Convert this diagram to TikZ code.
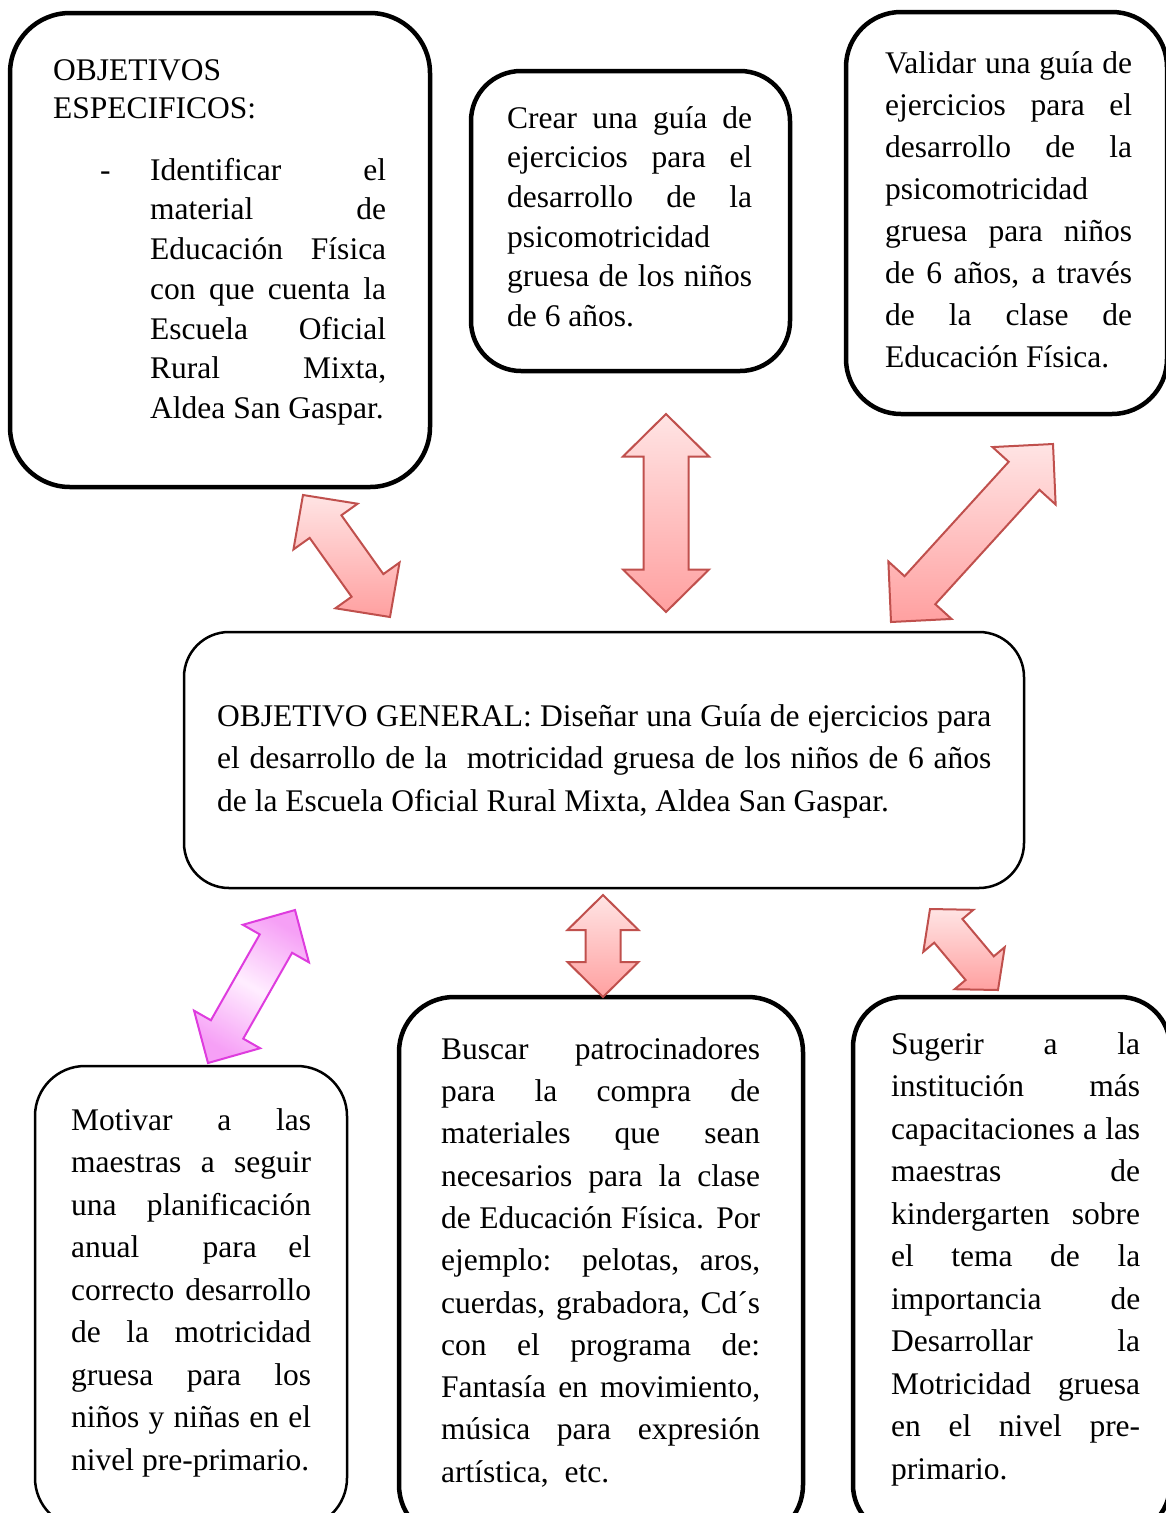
\documentclass[tikz,border=0pt]{standalone}
\usepackage{fontspec}
\setmainfont{Liberation Serif}
\usetikzlibrary{calc}
\newcommand\mystrut{\vrule height 24pt depth 0pt width 0pt}
\newcommand\fixsp{\noindent\spaceskip=0pt\xspaceskip=0pt\hyphenpenalty=10000\exhyphenpenalty=10000\relax}
\newcommand\jl[1]{\makebox[\hsize][s]{#1}\\}
\newcommand\barrow[6]{%
\path[#6] (#1) -- ($(#1)!#5!(#2)!#3!90:(#2)$) -- ($(#1)!#5!(#2)!#4!90:(#2)$)
 -- ($(#2)!#5!(#1)!#4!-90:(#1)$) -- ($(#2)!#5!(#1)!#3!-90:(#1)$) -- (#2)
 -- ($(#2)!#5!(#1)!#3!90:(#1)$) -- ($(#2)!#5!(#1)!#4!90:(#1)$)
 -- ($(#1)!#5!(#2)!#4!-90:(#2)$) -- ($(#1)!#5!(#2)!#3!-90:(#2)$) -- cycle;}
\definecolor{arrowline}{RGB}{192,80,77}
\definecolor{arrowtop}{RGB}{255,228,228}
\definecolor{arrowbot}{RGB}{255,160,160}
\definecolor{magline}{RGB}{222,60,222}
\definecolor{magfill}{RGB}{246,160,246}
\definecolor{maglight}{RGB}{255,238,255}
\tikzset{
 thickbox/.style={draw=black, line width=4.5pt, rounded corners=#1, inner sep=0pt},
 thinbox/.style={draw=black, line width=2.5pt, rounded corners=#1, inner sep=0pt},
 txt/.style={anchor=north west, inner sep=0pt, align=left, text width=#1},
 redarrow/.style={draw=arrowline, line width=2pt, line join=miter, top color=arrowtop, bottom color=arrowbot},
 magarrow/.style={draw=magline, line width=2pt, line join=miter, left color=magfill, right color=magfill, middle color=maglight, shading angle=-30},
}
\begin{document}
\begin{tikzpicture}[x=1pt,y=-1pt]
\useasboundingbox (0,0) rectangle (1166,1513);
\clip (0,0) rectangle (1166,1513);
\fill[white] (0,0) rectangle (1166,1513);

% boxes
\node[thickbox=60pt, minimum width=420pt, minimum height=474pt] (b1) at (220,250) {};
\node[thickbox=50pt, minimum width=319pt, minimum height=300pt] (b2) at (630.5,221) {};
\node[thickbox=55pt, minimum width=321pt, minimum height=402pt] (b3) at (1006.5,213) {};
\node[thinbox=45pt, minimum width=840pt, minimum height=256pt] (bc) at (604,760) {};
\node[thinbox=50pt, minimum width=312pt, minimum height=462pt] (bl) at (191,1297) {};
\node[thickbox=55pt, minimum width=404pt, minimum height=543pt] (bm) at (601,1268.5) {};
\node[thickbox=50pt, minimum width=317pt, minimum height=538pt] (br) at (1011.5,1266) {};

% texts
\node[txt=320pt, font=\fontsize{31.5}{38}\selectfont] (t1h) at (53,56)
 {\fixsp\mystrut OBJETIVOS\\ESPECIFICOS:};
\node[anchor=base west, inner sep=0pt, font=\fontsize{31.5}{38}\selectfont] (dash) at (100,180) {-};
\node[txt=236pt, font=\fontsize{31.5}{39.7}\selectfont] (t1) at (150,156)
 {\fixsp\mystrut\jl{Identificar el}\jl{material de}\jl{Educación Física}\jl{con que cuenta la}\jl{Escuela Oficial}\jl{Rural Mixta,}Aldea San Gaspar.};

\node[txt=245pt, font=\fontsize{31.5}{39.6}\selectfont] (t2) at (507,104)
 {\fixsp\mystrut\jl{Crear una guía de}\jl{ejercicios para el}\jl{desarrollo de la}psicomotricidad\\\jl{gruesa de los niños}de 6 años.};

\node[txt=247pt, font=\fontsize{31.5}{42}\selectfont] (t3) at (885,49)
 {\fixsp\mystrut\jl{Validar una guía de}\jl{ejercicios para el}\jl{desarrollo de la}psicomotricidad\\\jl{gruesa para niños}\jl{de 6 años, a través}\jl{de la clase de}Educación Física.};

\node[txt=774pt, font=\fontsize{31.5}{42.5}\selectfont] (tc) at (217,702)
 {\fixsp\mystrut\jl{OBJETIVO GENERAL: Diseñar una Guía de ejercicios para}\jl{el desarrollo de la \ motricidad gruesa de los niños de 6 años}de la Escuela Oficial Rural Mixta, Aldea San Gaspar.};

\node[txt=240pt, font=\fontsize{31.5}{42.5}\selectfont] (tl) at (71,1106)
 {\fixsp\mystrut\jl{Motivar a las}\jl{maestras a seguir}\jl{una planificación}\jl{anual \quad para el}\jl{correcto desarrollo}\jl{de la motricidad}\jl{gruesa para los}\jl{niños y niñas en el}nivel pre-primario.};

\node[txt=319pt, font=\fontsize{31.5}{42.3}\selectfont] (tm) at (441,1035)
 {\fixsp\mystrut\jl{Buscar patrocinadores}\jl{para la compra de}\jl{materiales que sean}\jl{necesarios para la clase}\jl{de Educación Física. Por}\jl{ejemplo: pelotas, aros,}\jl{cuerdas, grabadora, Cd´s}\jl{con el programa de:}\jl{Fantasía en movimiento,}\jl{música para expresión}artística, \ etc.};

\node[txt=249pt, font=\fontsize{31.5}{42.5}\selectfont] (tr) at (891,1030)
 {\fixsp\mystrut\jl{Sugerir a la}\jl{institución más}\jl{capacitaciones a las}\jl{maestras de}\jl{kindergarten sobre}\jl{el tema de la}\jl{importancia de}\jl{Desarrollar la}\jl{Motricidad gruesa}\jl{en el nivel pre-}primario.};

% arrow end points
\coordinate (a1s) at (303,495);  \coordinate (a1e) at (390,617);
\coordinate (a2s) at (666,414);  \coordinate (a2e) at (666,612);
\coordinate (a3s) at (1053,444); \coordinate (a3e) at (891,622);
\coordinate (a4s) at (295,910);  \coordinate (a4e) at (208,1063);
\coordinate (a5s) at (603,895);  \coordinate (a5e) at (603,997);
\coordinate (a6s) at (930,909);  \coordinate (a6e) at (998,990);

\barrow{a1s}{a1e}{39.4pt}{19.5pt}{38.8pt}{redarrow}
\barrow{a2s}{a2e}{43pt}{22.5pt}{42.5pt}{redarrow}
\barrow{a3s}{a3e}{42.7pt}{20.8pt}{43pt}{redarrow}
\barrow{a4s}{a4e}{38pt}{18.6pt}{38.6pt}{magarrow}
\barrow{a5s}{a5e}{35.5pt}{17.5pt}{35pt}{redarrow}
\barrow{a6s}{a6e}{32.7pt}{18.4pt}{28.5pt}{redarrow}
\end{tikzpicture}
\end{document}
